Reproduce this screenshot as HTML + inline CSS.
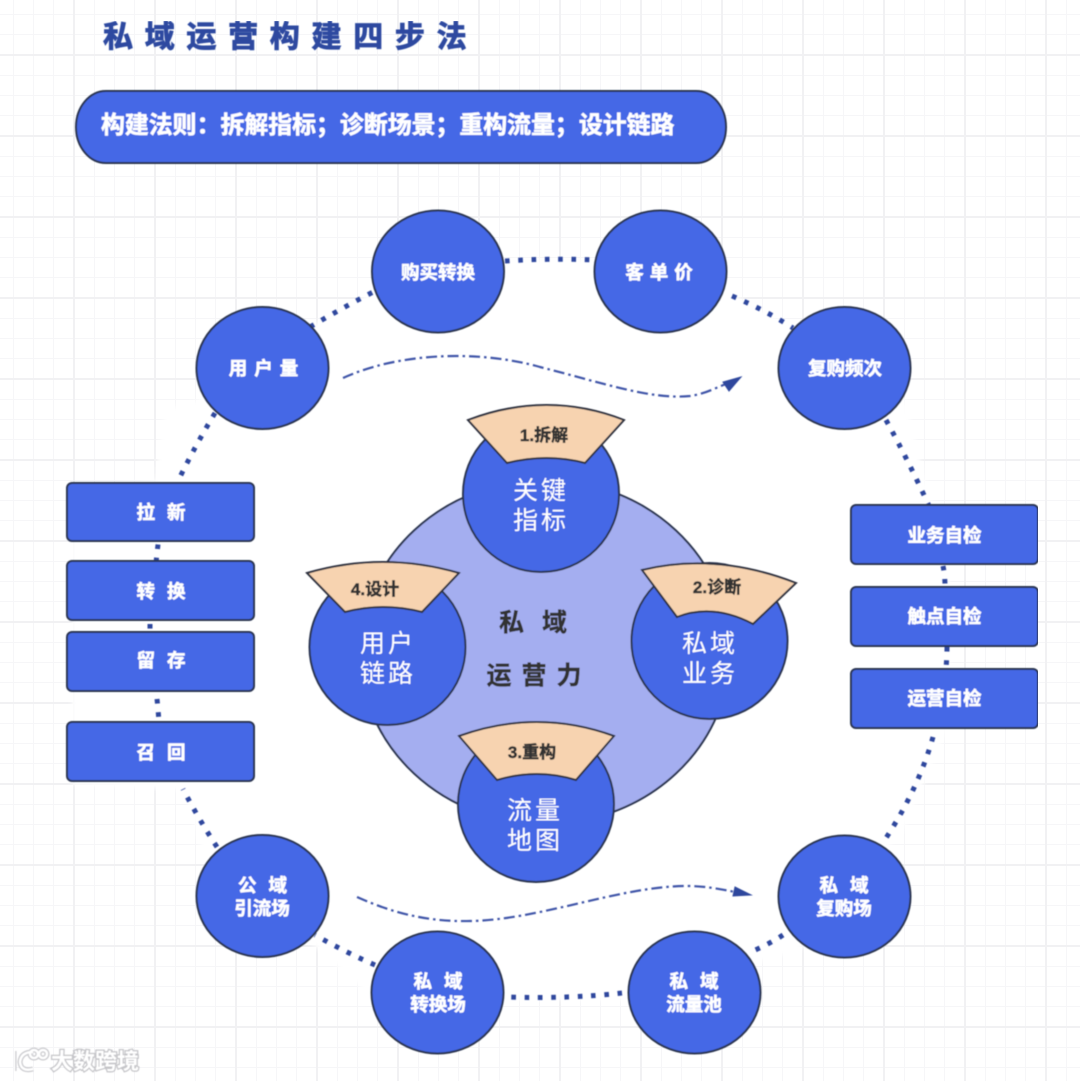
<!DOCTYPE html>
<html><head><meta charset="utf-8">
<style>
html,body{margin:0;padding:0;background:#fff}
svg{display:block}
text{font-family:"Liberation Sans","Noto Sans CJK SC",sans-serif}
.n{fill:#4568e6;stroke:#2b3550;stroke-width:2}
.f{fill:#f7d3b0;stroke:#2f3340;stroke-width:2;stroke-linejoin:miter}
.d{fill:none;stroke:#2f479d;stroke-width:5;stroke-dasharray:4.6 8.7}
.c{fill:none;stroke:#3f55a8;stroke-width:2.200;stroke-dasharray:11 4 2.500 4}
.l{fill:#fff;font-weight:700;font-size:18.500px;text-anchor:middle;stroke:#fff;stroke-width:.5}
.b{fill:#fff;font-size:25px;text-anchor:middle;letter-spacing:3px}
.t{fill:#333;font-weight:700;font-size:17px;text-anchor:middle;stroke:#333;stroke-width:.5}
.m{fill:#333;font-weight:700;font-size:25px;text-anchor:middle;stroke:#333;stroke-width:.4}
</style></head>
<body>
<svg width="1080" height="1081" viewBox="0 0 1080 1081" xmlns="http://www.w3.org/2000/svg">
<defs>
<pattern id="g" width="81" height="81" patternUnits="userSpaceOnUse" patternTransform="translate(74,55)">
<g fill="#f6f6f8">
<rect x="20" y="0" width="1" height="81"/><rect x="40" y="0" width="1" height="81"/><rect x="60" y="0" width="1" height="81"/>
<rect x="0" y="20" width="81" height="1"/><rect x="0" y="40" width="81" height="1"/><rect x="0" y="60" width="81" height="1"/>
</g>
<g fill="#f1f1f3">
<rect x="0" y="0" width="1" height="81"/><rect x="80" y="0" width="1" height="81"/>
<rect x="0" y="0" width="81" height="1"/><rect x="0" y="80" width="81" height="1"/>
</g>
</pattern>
<filter id="bl" x="-5%" y="-5%" width="110%" height="110%"><feGaussianBlur stdDeviation="2.500"/></filter>
<filter id="soft" x="0" y="0" width="100%" height="100%"><feGaussianBlur stdDeviation="0.450"/></filter>
</defs>
<rect width="1080" height="1081" fill="#fff"/>
<rect width="1080" height="1081" fill="url(#g)"/>
<polygon filter="url(#bl)" fill="#fff" points="310,327 375,291 505,260 596,260 732,294 793,328 905,400 930,500 948,510 950,722 903,830 800,950 620,1000 375,1000 320,950 205,860 185,790 72,785 72,490 155,480 165,410 200,400 200,345"/>

<g filter="url(#soft)">
<text x="103" y="47" font-size="30" font-weight="700" fill="#2d4aa0" stroke="#2d4aa0" stroke-width=".9" letter-spacing="11.700">私域运营构建四步法</text>
<rect x="76" y="91" width="650" height="72" rx="30" ry="36" class="n"/>
<text x="101" y="133" font-size="23.900" font-weight="700" fill="#fff" stroke="#fff" stroke-width=".5">构建法则：拆解指标；诊断场景；重构流量；设计链路</text>

<!-- dotted ring -->
<path class="d" d="M310,327 Q342,308 375,291"/>
<path class="d" d="M505,261 Q550,258 596,260"/>
<path class="d" d="M732,296 Q765,310 793,328"/>
<path class="d" d="M886,420 Q908,460 929,506"/>
<path class="d" d="M943,566 Q945,575 945,587"/>
<path class="d" d="M947,647 Q947,655 946,669"/>
<path class="d" d="M933,737 Q918,790 884,841"/>
<path class="d" d="M783,935 Q768,945 748,953"/>
<path class="d" d="M622,993 Q570,999 505,997"/>
<path class="d" d="M375,965 Q345,952 315,935"/>
<path class="d" d="M217,847 Q198,818 183,789"/>
<path class="d" d="M157,699 Q158,708 159,722"/>
<path class="d" d="M150,624 L150,632"/>
<path class="d" d="M158,544.500 Q157,553 156,563"/>
<path class="d" d="M215,413 Q195,446 177,483"/>

<!-- curved arrows -->
<path class="c" d="M343,378 C400,352 480,350 540,367 C600,382 650,400 690,396 C705,394 715,388 726,384"/>
<polygon points="741,377 723,382 729,391" fill="#2f479d" stroke="#2f479d" stroke-width="1"/>
<path class="c" d="M357,897 C395,914 430,922 470,921 C540,920 620,886 687,886 C705,886 720,889 735,892"/>
<polygon points="751,895 735,887 733,896" fill="#2f479d" stroke="#2f479d" stroke-width="1"/>

<!-- outer nodes -->
<ellipse class="n" cx="262.500" cy="368" rx="66" ry="61"/>
<ellipse class="n" cx="438" cy="271.500" rx="66" ry="61"/>
<ellipse class="n" cx="660.500" cy="271.500" rx="66" ry="61"/>
<ellipse class="n" cx="844.500" cy="368" rx="66" ry="61"/>
<ellipse class="n" cx="262.500" cy="896" rx="66" ry="61"/>
<ellipse class="n" cx="437.500" cy="992.500" rx="66" ry="61"/>
<ellipse class="n" cx="694.500" cy="992.500" rx="66" ry="61"/>
<ellipse class="n" cx="844.500" cy="896.500" rx="66" ry="61"/>
<text class="l" x="267" y="375" letter-spacing="7">用户量</text>
<text class="l" x="438" y="279">购买转换</text>
<text class="l" x="662" y="279" letter-spacing="6">客单价</text>
<text class="l" x="845" y="375">复购频次</text>
<text class="l" x="268.500" y="892" letter-spacing="12">公域</text>
<text class="l" x="262" y="915">引流场</text>
<text class="l" x="444" y="988" letter-spacing="12">私域</text>
<text class="l" x="438" y="1011">转换场</text>
<text class="l" x="700" y="988" letter-spacing="12">私域</text>
<text class="l" x="694" y="1011">流量池</text>
<text class="l" x="850" y="892" letter-spacing="12">私域</text>
<text class="l" x="844" y="915">复购场</text>

<!-- boxes -->
<rect class="n" x="67" y="483" width="187" height="58" rx="5"/>
<rect class="n" x="67" y="561" width="187" height="59" rx="5"/>
<rect class="n" x="67" y="632" width="187" height="59" rx="5"/>
<rect class="n" x="67" y="722" width="187" height="59" rx="5"/>
<rect class="n" x="851" y="505" width="187" height="59" rx="5"/>
<rect class="n" x="851" y="587" width="187" height="59" rx="5"/>
<rect class="n" x="851" y="669" width="187" height="59" rx="5"/>
<text class="l" x="167" y="519" letter-spacing="12">拉新</text>
<text class="l" x="167" y="598" letter-spacing="12">转换</text>
<text class="l" x="167" y="667" letter-spacing="12">留存</text>
<text class="l" x="167" y="759" letter-spacing="12">召回</text>
<text class="l" x="944.500" y="542">业务自检</text>
<text class="l" x="944.500" y="623">触点自检</text>
<text class="l" x="944.500" y="705">运营自检</text>

<!-- center -->
<ellipse cx="545" cy="652" rx="185" ry="172" fill="#a4aef0" stroke="#2b3550" stroke-width="2"/>
<ellipse class="n" cx="541" cy="494" rx="78" ry="78"/>
<ellipse class="n" cx="387.500" cy="647" rx="78" ry="78"/>
<ellipse class="n" cx="709.500" cy="641" rx="78" ry="78"/>
<ellipse class="n" cx="536" cy="804" rx="78" ry="78"/>
<path class="f" d="M468,420 Q547,390 624,420 L585,463 Q547,453 507,463 Z"/>
<path class="f" d="M307,573 Q383,551 459,573 L422,612 Q383,602 345,612 Z"/>
<path class="f" d="M642,570 Q716,552 796,583 L753,624 Q713,603 677,617 Z"/>
<path class="f" d="M459,736 Q537,708 614,736 L576,780 Q537,768 497,780 Z"/>
<text class="t" x="544" y="441">1.拆解</text>
<text class="t" x="375" y="595">4.设计</text>
<text class="t" x="717" y="593">2.诊断</text>
<text class="t" x="532" y="758">3.重构</text>
<text class="b" x="541" y="499">关键</text>
<text class="b" x="541" y="529">指标</text>
<text class="b" x="388" y="652">用户</text>
<text class="b" x="388" y="682">链路</text>
<text class="b" x="710" y="652">私域</text>
<text class="b" x="710" y="682">业务</text>
<text class="b" x="535" y="819">流量</text>
<text class="b" x="535" y="849">地图</text>
<text class="m" x="542" y="631" letter-spacing="18">私域</text>
<text class="m" x="539" y="684" letter-spacing="10">运营力</text>

<!-- watermark -->
<g fill="none" stroke="#c9c9cd" stroke-width="5">
<path d="M14,1051 V1071"/><path d="M33,1052 Q21,1052 20,1062 Q21,1072 33,1069"/>
<circle cx="34" cy="1054" r="4"/><circle cx="43" cy="1054" r="4"/>
</g>
<g fill="none" stroke="#fff" stroke-width="2.500">
<path d="M14,1051 V1071"/><path d="M33,1052 Q21,1052 20,1062 Q21,1072 33,1069"/>
<circle cx="34" cy="1054" r="4"/><circle cx="43" cy="1054" r="4"/>
</g>
<text x="51" y="1069" font-size="22" fill="#fff" stroke="#c4c4c8" stroke-width="2.500" paint-order="stroke" font-weight="700">大数跨境</text>
</g>
</svg>
</body></html>
